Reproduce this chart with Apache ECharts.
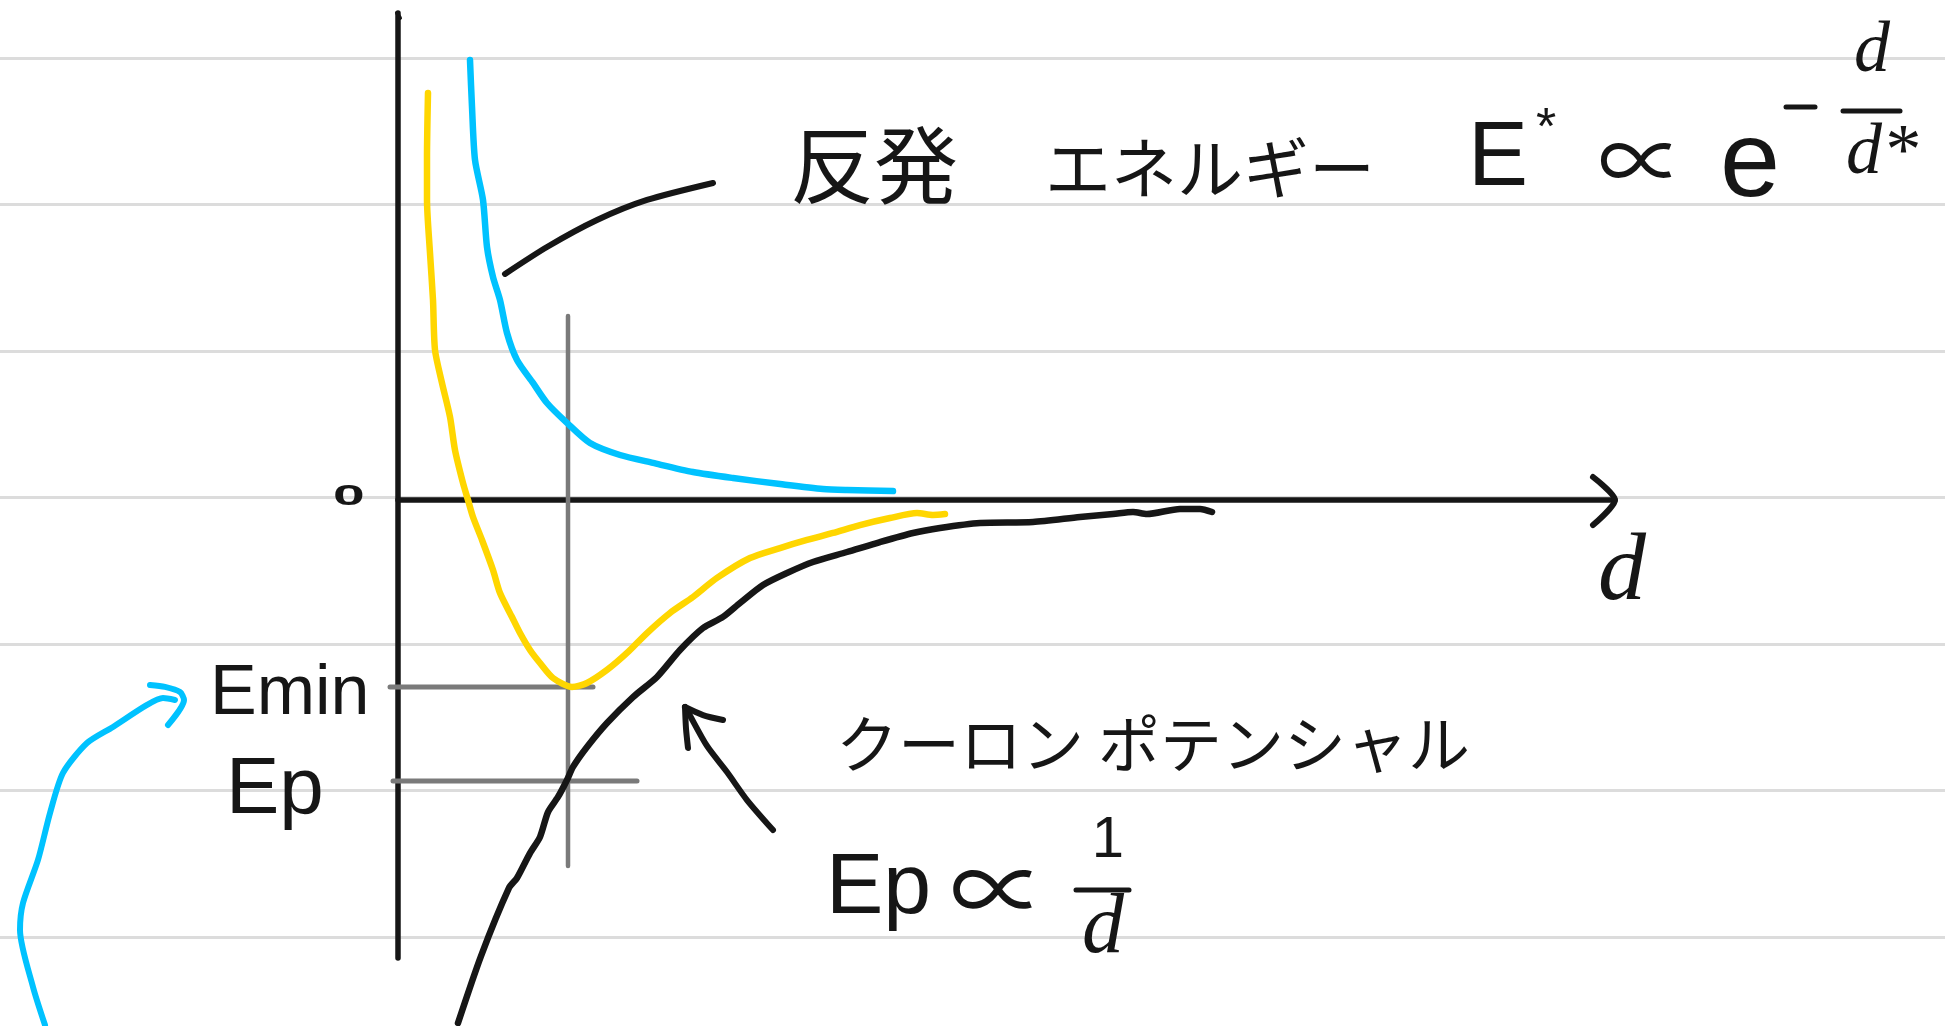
<!DOCTYPE html>
<html>
<head>
<meta charset="utf-8">
<title>クーロンポテンシャルと反発エネルギー</title>
<script src="https://cdn.jsdelivr.net/npm/echarts@6/dist/echarts.min.js"></script>
<style>
  html, body { margin: 0; padding: 0; background: #ffffff; }
  #chart { width: 1945px; height: 1026px; }
</style>
</head>
<body>
<div id="chart"></div>
<script>
// Interatomic distance d (x) against energy E (y); points are [d, E].
var repulsionCurve = [
  [0.72, 3.003], [0.74, 2.683], [0.77, 2.321], [0.85, 2.048], [0.89, 1.727],
  [0.95, 1.522], [1.02, 1.365], [1.09, 1.140], [1.19, 0.956], [1.35, 0.799],
  [1.49, 0.662], [1.69, 0.526], [1.92, 0.389], [2.22, 0.307], [2.55, 0.253],
  [2.95, 0.191], [3.35, 0.150], [3.82, 0.109], [4.25, 0.075], [4.49, 0.068],
  [4.95, 0.061]
];
var totalCurve = [
  [0.30, 2.778], [0.29, 2.341], [0.29, 2.048], [0.32, 1.686], [0.35, 1.365],
  [0.37, 1.024], [0.44, 0.799], [0.52, 0.567], [0.57, 0.341], [0.65, 0.116],
  [0.70, 0.000], [0.75, -0.116], [0.84, -0.273], [0.95, -0.478], [1.02, -0.635],
  [1.14, -0.799], [1.22, -0.908], [1.32, -1.024], [1.42, -1.113], [1.55, -1.215],
  [1.74, -1.276], [1.89, -1.249], [2.09, -1.160], [2.29, -1.044], [2.49, -0.908],
  [2.72, -0.771], [2.95, -0.662], [3.19, -0.532], [3.52, -0.396], [3.82, -0.328],
  [4.09, -0.273], [4.35, -0.225], [4.62, -0.171], [4.92, -0.123], [5.19, -0.089],
  [5.35, -0.102], [5.47, -0.096]
];
var coulombCurve = [
  [0.60, -3.570], [0.83, -3.113], [1.11, -2.648], [1.19, -2.580], [1.32, -2.410],
  [1.42, -2.300], [1.50, -2.130], [1.60, -2.027], [1.69, -1.911], [1.75, -1.822],
  [1.89, -1.686], [2.09, -1.522], [2.35, -1.345], [2.59, -1.208], [2.82, -1.024],
  [3.05, -0.874], [3.25, -0.798], [3.42, -0.703], [3.65, -0.580], [3.89, -0.498],
  [4.15, -0.423], [4.49, -0.355], [4.82, -0.287], [5.15, -0.225], [5.42, -0.191],
  [5.82, -0.157], [6.35, -0.150], [6.82, -0.116], [7.15, -0.096], [7.35, -0.082],
  [7.49, -0.096], [7.82, -0.061], [8.02, -0.061], [8.14, -0.082]
];

// Equilibrium distance and the two energy levels marked on the E axis
var dEquilibrium = 1.70;
var eMinValue = -1.276;
var epValue = -1.918;
var guideVerticalSpan = [1.256, -2.498];
var eMinGuideSpan = [-0.08, 1.95];
var epGuideSpan = [-0.05, 2.39];

// Annotation strokes, in the same [d, E] units
var repulsionPointer = [[1.07, 1.543], [1.49, 1.727], [1.99, 1.911], [2.49, 2.048], [3.15, 2.164]];
var coulombArrowShaft = [[2.87, -1.413], [2.90, -1.447], [3.09, -1.679], [3.29, -1.857], [3.49, -2.048], [3.75, -2.253]];
var coulombArrowArmA = [[2.90, -1.693], [2.88, -1.560], [2.87, -1.413]];
var coulombArrowArmB = [[2.87, -1.413], [3.05, -1.468], [3.25, -1.502]];
var eminArrowShaft = [
  [-3.53, -3.584], [-3.65, -3.324], [-3.78, -2.935], [-3.75, -2.751], [-3.60, -2.457],
  [-3.48, -2.137], [-3.35, -1.863], [-3.11, -1.659], [-2.85, -1.549], [-2.51, -1.399],
  [-2.35, -1.352], [-2.23, -1.365]
];
var eminArrowHead = [[-2.48, -1.263], [-2.33, -1.276], [-2.18, -1.311], [-2.14, -1.365], [-2.30, -1.536]];
var dAxisChevron = [[11.95, 0.157], [12.17, 0], [11.95, -0.171]];
var eAxisTopHook = [[-0.01, 3.324], [0.02, 3.290]];

// Visible axis extents and the full drawing extent (same units)
var dAxisRange = [0, 12.17];
var eAxisRange = [-3.126, 3.324];
var dPageRange = [-3.98, 15.47];
var ePageRange = [-3.59044, 3.41297];

// Notebook ruling: one line per energy unit
var ruledLevels = { min: -3, max: 3, step: 1 };

var INK = '#161616';
var BLUE = '#00c2ff';
var YELLOW = '#ffd600';
var GUIDE = '#7a7a7a';

function stroke(data, color, width, z) {
  return {
    type: 'line',
    xAxisIndex: 2,
    yAxisIndex: 2,
    data: data,
    showSymbol: false,
    symbol: 'none',
    smooth: 0.25,
    silent: true,
    z: z || 3,
    lineStyle: { color: color, width: width, cap: 'round', join: 'round' }
  };
}

function label(text, x, y, size, family, opts) {
  opts = opts || {};
  return {
    type: 'text',
    x: x,
    y: y,
    z: 10,
    scaleX: opts.scaleX || 1,
    silent: true,
    style: {
      text: text,
      fontSize: size,
      fontFamily: family,
      fontStyle: opts.italic ? 'italic' : 'normal',
      fontWeight: opts.weight || 'normal',
      fill: INK,
      align: opts.align || 'left',
      textAlign: opts.align || 'left',
      verticalAlign: 'middle',
      textVerticalAlign: 'middle'
    }
  };
}

function bar(x1, x2, y) {
  return {
    type: 'line',
    z: 10,
    silent: true,
    shape: { x1: x1, y1: y, x2: x2, y2: y },
    style: { stroke: INK, lineWidth: 5, lineCap: 'round' }
  };
}

var JP = '"Noto Sans CJK JP", "Noto Sans", sans-serif';
var SANS = '"Liberation Sans", "DejaVu Sans", sans-serif';
var SERIF = '"Liberation Serif", "DejaVu Serif", serif';

var hidden = { show: false };

var chart = echarts.init(document.getElementById('chart'), null, { renderer: 'canvas' });

chart.setOption({
  animation: false,
  backgroundColor: '#ffffff',
  grid: [
    { left: 0, right: 0, top: 58, bottom: 89 },
    { left: 398, right: 330, top: 13, bottom: 68 },
    { left: 0, right: 0, top: 0, bottom: 0 }
  ],
  xAxis: [
    { gridIndex: 0, type: 'value', min: 0, max: 1, show: false },
    {
      gridIndex: 1, type: 'value', min: dAxisRange[0], max: dAxisRange[1],
      axisLine: { show: true, onZero: true, lineStyle: { color: INK, width: 5.5, cap: 'round' } },
      axisTick: hidden, axisLabel: hidden, splitLine: hidden
    },
    { gridIndex: 2, type: 'value', min: dPageRange[0], max: dPageRange[1], show: false }
  ],
  yAxis: [
    {
      gridIndex: 0, type: 'value', min: ruledLevels.min, max: ruledLevels.max, interval: ruledLevels.step,
      axisLine: hidden, axisTick: hidden, axisLabel: hidden,
      splitLine: { show: true, lineStyle: { color: '#dcdcdc', width: 3 } }
    },
    {
      gridIndex: 1, type: 'value', min: eAxisRange[0], max: eAxisRange[1],
      axisLine: { show: true, onZero: false, lineStyle: { color: INK, width: 5.5, cap: 'round' } },
      axisTick: hidden, axisLabel: hidden, splitLine: hidden
    },
    { gridIndex: 2, type: 'value', min: ePageRange[0], max: ePageRange[1], show: false }
  ],
  series: [
    stroke([[dEquilibrium, guideVerticalSpan[0]], [dEquilibrium, guideVerticalSpan[1]]], GUIDE, 4.5, 2),
    stroke([[eMinGuideSpan[0], eMinValue], [eMinGuideSpan[1], eMinValue]], GUIDE, 5, 2),
    stroke([[epGuideSpan[0], epValue], [epGuideSpan[1], epValue]], GUIDE, 5, 2),
    stroke(repulsionCurve, BLUE, 6.5, 4),
    stroke(totalCurve, YELLOW, 6.5, 4),
    stroke(coulombCurve, INK, 6.5, 4),
    stroke(repulsionPointer, INK, 6, 4),
    stroke(coulombArrowShaft, INK, 6, 4),
    stroke(coulombArrowArmA, INK, 6, 4),
    stroke(coulombArrowArmB, INK, 6, 4),
    stroke(eminArrowShaft, BLUE, 6, 4),
    stroke(eminArrowHead, BLUE, 6, 4),
    stroke(dAxisChevron, INK, 6, 5),
    stroke(eAxisTopHook, INK, 4, 5)
  ],
  graphic: [
    // origin and axis name
    label('0', 333, 497, 30, SANS, { scaleX: 1.9, weight: 'bold' }),
    label('d', 1622, 574, 96, SERIF, { align: 'center', italic: true }),

    // levels on the energy axis
    label('Emin', 210, 695, 70, SANS),
    label('Ep', 226, 791, 80, SANS),

    // repulsion energy and its proportionality
    label('反発', 790, 165, 84, JP),
    label('エネルギー', 1045, 168, 66, JP),
    label('E', 1468, 160, 90, SANS),
    label('*', 1536, 130, 52, SANS),
    label('∝', 1598, 160, 86, JP),
    label('e', 1720, 166, 108, SANS),
    bar(1786, 1815, 107),
    label('d', 1872, 52, 72, SERIF, { align: 'center', italic: true }),
    bar(1843, 1900, 111),
    label('d*', 1846, 154, 72, SERIF, { italic: true }),

    // Coulomb potential and its proportionality
    label('クーロン', 836, 744, 62, JP),
    label('ポテンシャル', 1098, 744, 62, JP),
    label('Ep', 826, 889, 86, SANS),
    label('∝', 950, 889, 96, JP),
    label('1', 1108, 841, 58, SANS, { align: 'center' }),
    bar(1076, 1129, 890),
    label('d', 1103, 930, 84, SERIF, { align: 'center', italic: true })
  ]
});
</script>
</body>
</html>
